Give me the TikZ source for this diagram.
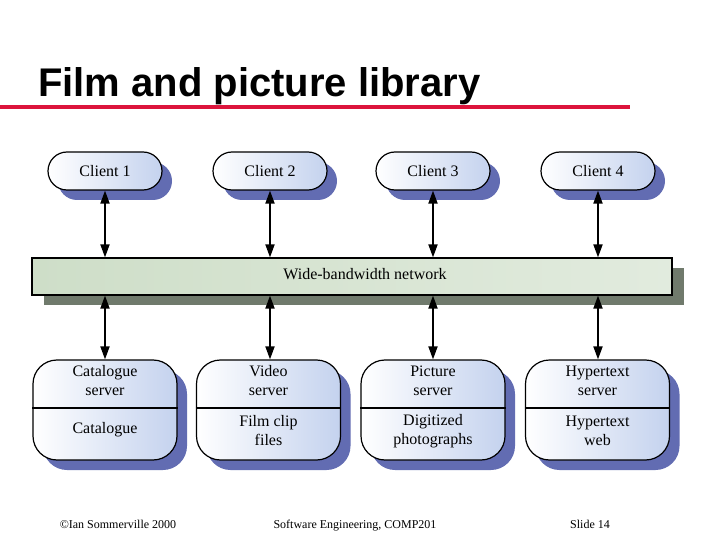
\documentclass[tikz,border=0pt]{standalone}
\usepackage{fontspec}
\setmainfont{Liberation Serif}
\newfontfamily\titlefont{Liberation Sans}
\usetikzlibrary{positioning,arrows.meta,shadows}

\definecolor{slidered}{RGB}{220,20,60}
\definecolor{boxblue}{RGB}{196,210,238}
\definecolor{boxshade}{RGB}{98,108,178}
\definecolor{netgreen}{RGB}{206,222,200}
\definecolor{netshade}{RGB}{112,122,108}

\begin{document}
\begin{tikzpicture}[
        x=1pt, y=-1pt,
        font=\fontsize{16}{19}\selectfont,
        client/.style={draw, line width=1.2pt, rounded corners=19pt, minimum width=114pt, minimum height=38pt,
            left color=white, right color=boxblue,
            drop shadow={shadow xshift=10pt, shadow yshift=-10pt, fill=boxshade, opacity=1}},
        server/.style={draw, line width=1.2pt, rounded corners=24pt, minimum width=144pt, minimum height=100pt,
            left color=white, right color=boxblue,
            drop shadow={shadow xshift=10pt, shadow yshift=-10pt, fill=boxshade, opacity=1}},
        network/.style={draw, line width=1.2pt, minimum width=640pt, minimum height=37pt,
            left color=netgreen, right color=netgreen!60!white,
            drop shadow={shadow xshift=12pt, shadow yshift=-10pt, fill=netshade, opacity=1}},
        label/.style={align=center, inner sep=0pt},
        link/.style={{Triangle[length=13pt,width=9pt]}-{Triangle[length=13pt,width=9pt]}, line width=1.8pt},
        footer/.style={font=\fontsize{12}{14}\selectfont, anchor=base}
    ]
        \useasboundingbox (0,0) rectangle (720,540);

        % title
        \node[anchor=base west, inner sep=0pt, font=\titlefont\bfseries\fontsize{40}{44}\selectfont] (title) at (38,97) {Film and picture library};
        \coordinate (rulestart) at (0,107);
        \coordinate (ruleend) at (630,107);
        \draw[slidered, line width=4pt] (rulestart) -- (ruleend);

        % clients
        \node[client] (client1) at (105,171) {Client 1};
        \node[client] (client2) at (270,171) {Client 2};
        \node[client] (client3) at (433,171) {Client 3};
        \node[client] (client4) at (598,171) {Client 4};

        % network
        \node[network] (net) at (352,276.5) {};
        \node[label] (netname) at (365,274) {Wide-bandwidth network};

        % servers
        \node[server] (catsrv) at (105,410) {};
        \node[server] (vidsrv) at (268.5,410) {};
        \node[server] (picsrv) at (433,410) {};
        \node[server] (hypsrv) at (597.5,410) {};
        \foreach \s in {catsrv,vidsrv,picsrv,hypsrv}
            \draw[line width=1.2pt] ([yshift=2pt]\s.west) -- ([yshift=2pt]\s.east);

        \node[label] (catname) at (105,381) {Catalogue\\server};
        \node[label] (catdata) at (105,430) {Catalogue};
        \node[label] (vidname) at (268.5,381) {Video\\server};
        \node[label] (viddata) at (268.5,431) {Film clip\\files};
        \node[label] (picname) at (433,381) {Picture\\server};
        \node[label] (picdata) at (433,431) {Digitized\\photographs};
        \node[label] (hypname) at (597.5,381) {Hypertext\\server};
        \node[label] (hypdata) at (597.5,431) {Hypertext\\web};

        % links
        \draw[link] (client1.south) -- (client1.south |- net.north);
        \draw[link] (client2.south) -- (client2.south |- net.north);
        \draw[link] (client3.south) -- (client3.south |- net.north);
        \draw[link] (client4.south) -- (client4.south |- net.north);
        \draw[link] (client1.south |- net.south) -- (client1.south |- catsrv.north);
        \draw[link] (client2.south |- net.south) -- (client2.south |- vidsrv.north);
        \draw[link] (client3.south |- net.south) -- (client3.south |- picsrv.north);
        \draw[link] (client4.south |- net.south) -- (client4.south |- hypsrv.north);

        % footer
        \node[footer] (author) at (118,528) {\textcopyright Ian Sommerville 2000};
        \node[footer] (course) at (355,528) {Software Engineering, COMP201};
        \node[footer] (slide) at (590,528) {Slide 14};
\end{tikzpicture}
\end{document}
